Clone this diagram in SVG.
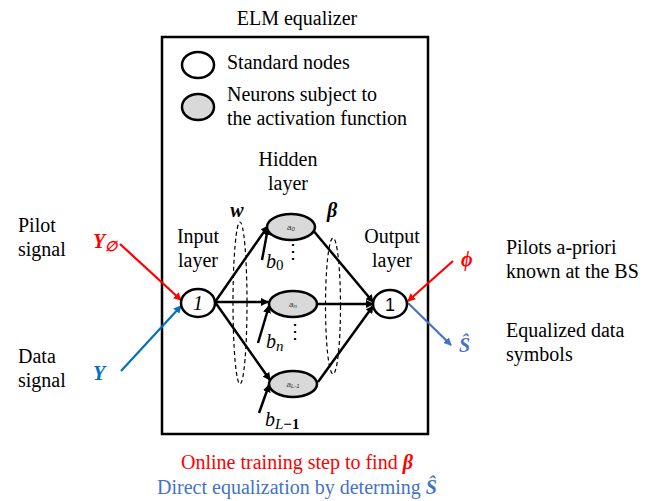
<svg xmlns="http://www.w3.org/2000/svg" width="645" height="501" viewBox="0 0 645 501" font-family="'Liberation Serif', 'Times New Roman', 'DejaVu Serif', serif">
<style>
text{font-family:'Liberation Serif','Times New Roman','DejaVu Serif',serif;font-size:20px;fill:#000}
.node{fill:#fff;stroke:#000;stroke-width:2.5}
.neuron{fill:#d9d9d9;stroke:#000;stroke-width:2.5}
.edge{stroke:#000;stroke-width:2.5;fill:none}
.dash{stroke:#000;stroke-width:1.2;fill:none;stroke-dasharray:4 3}
.math{font-style:italic}
.small{font-family:'Liberation Sans',Arial,sans-serif;font-size:8px;font-style:italic;fill:#333}
.red{fill:#ff0000}
.blue{fill:#0070c0}
.lblue{fill:#4472c4}
</style>
<defs>
<marker id="ak" markerWidth="8" markerHeight="8" refX="7" refY="4" orient="auto" markerUnits="userSpaceOnUse"><path d="M0,0 L8,4 L0,8 Z" fill="#000"/></marker>
<marker id="ar" markerWidth="8" markerHeight="8" refX="7" refY="4" orient="auto" markerUnits="userSpaceOnUse"><path d="M0,0 L8,4 L0,8 Z" fill="#ff0000"/></marker>
<marker id="ab" markerWidth="8" markerHeight="8" refX="7" refY="4" orient="auto" markerUnits="userSpaceOnUse"><path d="M0,0 L8,4 L0,8 Z" fill="#0070c0"/></marker>
<marker id="alb" markerWidth="8" markerHeight="8" refX="7" refY="4" orient="auto" markerUnits="userSpaceOnUse"><path d="M0,0 L8,4 L0,8 Z" fill="#4472c4"/></marker>
</defs>

<g id="frame">
<rect x="162" y="37" width="266" height="397" fill="none" stroke="#000" stroke-width="2.5"/>
<text x="297" y="25" text-anchor="middle">ELM equalizer</text>
</g>

<g id="legend">
<ellipse cx="198" cy="65" rx="16" ry="13" class="node"/>
<text x="227" y="69">Standard nodes</text>
<ellipse cx="198" cy="107" rx="16" ry="13" class="neuron"/>
<text x="227" y="101">Neurons subject to</text>
<text x="227" y="125">the activation function</text>
</g>

<g id="connectors">
<line x1="215" y1="302" x2="268" y2="226" class="edge" marker-end="url(#ak)"/>
<line x1="215" y1="302" x2="268" y2="302" class="edge" marker-end="url(#ak)"/>
<line x1="215" y1="302" x2="270" y2="380" class="edge" marker-end="url(#ak)"/>
<line x1="312" y1="229" x2="373" y2="302" class="edge" marker-end="url(#ak)"/>
<line x1="318" y1="304" x2="373" y2="304" class="edge" marker-end="url(#ak)"/>
<line x1="318" y1="382" x2="373" y2="306" class="edge" marker-end="url(#ak)"/>
<line x1="262" y1="260" x2="268" y2="228" class="edge" marker-end="url(#ak)"/>
<line x1="258" y1="343" x2="269" y2="306" class="edge" marker-end="url(#ak)"/>
<line x1="259" y1="413" x2="269" y2="385" class="edge" marker-end="url(#ak)"/>
<line x1="120" y1="244" x2="181" y2="300" stroke="#ff0000" stroke-width="2.2" marker-end="url(#ar)"/>
<line x1="121" y1="371" x2="181" y2="306" stroke="#0070c0" stroke-width="2.2" marker-end="url(#ab)"/>
<line x1="453" y1="261" x2="408" y2="301" stroke="#ff0000" stroke-width="2.2" marker-end="url(#ar)"/>
<line x1="408" y1="303" x2="451" y2="345" stroke="#4472c4" stroke-width="2.2" marker-end="url(#alb)"/>
<ellipse cx="240" cy="303" rx="7" ry="81" class="dash"/>
<ellipse cx="333" cy="306" rx="7.5" ry="68" class="dash"/>
</g>

<g id="input-node">
<ellipse cx="198" cy="303" rx="17" ry="14" class="node"/>
<text x="198" y="310" text-anchor="middle" class="math">1</text>
<text x="198" y="243" text-anchor="middle">Input</text>
<text x="198" y="267" text-anchor="middle">layer</text>
</g>

<g id="hidden-a0">
<ellipse cx="291" cy="227" rx="24" ry="13" class="neuron"/>
<text x="291" y="230" text-anchor="middle" class="small">a<tspan font-size="6" dy="1">0</tspan></text>
</g>
<g id="hidden-an">
<ellipse cx="293" cy="304" rx="24" ry="13" class="neuron"/>
<text x="293" y="307" text-anchor="middle" class="small">a<tspan font-size="6" dy="1">n</tspan></text>
</g>
<g id="hidden-aL1">
<ellipse cx="293" cy="384" rx="24" ry="13" class="neuron"/>
<text x="293" y="387" text-anchor="middle" class="small">a<tspan font-size="6" dy="1">L-1</tspan></text>
</g>
<g id="hidden-labels">
<text x="288" y="166" text-anchor="middle">Hidden</text>
<text x="288" y="190" text-anchor="middle">layer</text>
<text x="237" y="217" text-anchor="middle" font-weight="bold" class="math">w</text>
<text x="332" y="217" text-anchor="middle" font-weight="bold" class="math">β</text>
<text x="266" y="268" class="math" font-size="21">b<tspan font-size="15" dy="2" font-style="normal">0</tspan></text>
<text x="293" y="258" text-anchor="middle" font-size="16">⋮</text>
<text x="266" y="348" class="math" font-size="21">b<tspan font-size="15" dy="3">n</tspan></text>
<text x="295" y="338" text-anchor="middle" font-size="16">⋮</text>
<text x="265" y="426" class="math" font-size="21">b<tspan font-size="15" dy="3">L</tspan><tspan font-size="15" font-style="normal" font-weight="bold">−1</tspan></text>
</g>

<g id="output-node">
<ellipse cx="390" cy="304" rx="17" ry="14" class="node"/>
<text x="390" y="311" text-anchor="middle" style="font-family:'Liberation Sans',Arial,sans-serif;font-size:18px">1</text>
<text x="392" y="243" text-anchor="middle">Output</text>
<text x="392" y="267" text-anchor="middle">layer</text>
</g>

<g id="left-labels">
<text x="18" y="232">Pilot</text>
<text x="18" y="256">signal</text>
<text x="18" y="363">Data</text>
<text x="18" y="387">signal</text>
<text x="93" y="248" class="math red" font-weight="bold" font-size="20">Y<tspan font-size="14" dy="3">∅</tspan></text>
<text x="93" y="380" class="math blue" font-weight="bold" font-size="20">Y</text>
</g>

<g id="right-labels">
<text x="461" y="266" class="math red" font-weight="bold" font-size="20">ϕ</text>
<text x="459" y="352" class="math lblue" font-weight="bold" font-size="20">Ŝ</text>
<text x="506" y="254">Pilots a-priori</text>
<text x="506" y="278">known at the BS</text>
<text x="506" y="337">Equalized data</text>
<text x="506" y="361">symbols</text>
</g>

<g id="captions">
<text x="297" y="469" text-anchor="middle" class="red">Online training step to find <tspan font-weight="bold" font-style="italic">β</tspan></text>
<text x="297" y="494" text-anchor="middle" class="lblue">Direct equalization by determing <tspan font-weight="bold" font-style="italic">Ŝ</tspan></text>
</g>
</svg>
